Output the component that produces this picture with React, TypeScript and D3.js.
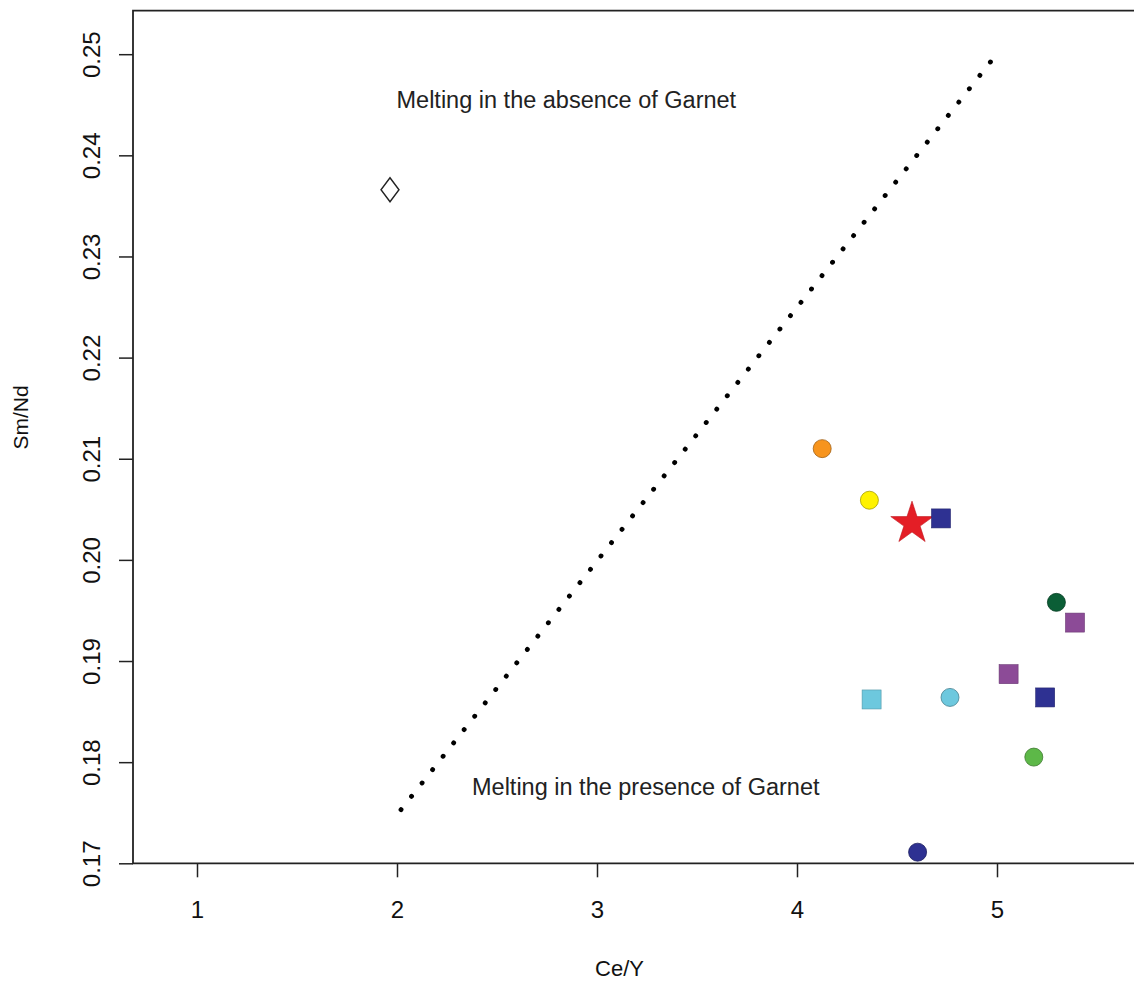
import * as d3 from "d3";
import { useEffect, useRef } from "react";

// data
const ceY = [1.965, 4.126, 4.362, 4.575, 4.72, 5.297, 5.39, 5.058, 4.373, 4.765, 5.241, 5.184, 4.603];
const smNd = [0.2366, 0.211, 0.2059, 0.2036, 0.2041, 0.1958, 0.1938, 0.1887, 0.1862, 0.1864, 0.1864, 0.1805, 0.1711];
const shapes = ["diamond", "circle", "circle", "star", "square", "circle", "square", "square", "square", "circle", "square", "circle", "circle"];
const fills = ["none", "#F7941D", "#FFF200", "#E41E26", "#2E3192", "#0B5E36", "#8C4B97", "#8C4B97", "#6DC8DE", "#6DC8DE", "#2E3192", "#5DB848", "#2E3192"];

const xTicks = [1, 2, 3, 4, 5];
const yTicks = [0.17, 0.18, 0.19, 0.2, 0.21, 0.22, 0.23, 0.24, 0.25];

// garnet boundary line
const lineX = [2.02, 4.99];
const lineY = [0.1753, 0.2498];

const W = 1134;
const H = 983;

const App = () => {
  const ref = useRef<SVGSVGElement>(null);

  useEffect(() => {
    const svg = d3.select(ref.current);
    svg.selectAll("*").remove();

    const left = 133, right = 1133, top = 10.7, bottom = 863.3;
    const x = d3.scaleLinear().domain([0.68, 5.68]).range([left, right]);
    const y = d3.scaleLinear().domain([0.17, 0.2543]).range([bottom, top]);

    const font = "Liberation Sans, Arial, sans-serif";

    // frame: left, bottom, top
    svg.append("path")
      .attr("d", `M${right + 5},${top}H${left}V${bottom}H${right + 5}`)
      .attr("fill", "none")
      .attr("stroke", "#222")
      .attr("stroke-width", 1.8);

    // x axis
    const gx = svg.append("g").attr("transform", `translate(0,${bottom})`);
    const xAxis = d3.axisBottom(x).tickValues(xTicks).tickSize(14).tickPadding(24).tickFormat(d3.format("d"));
    gx.call(xAxis);
    gx.select(".domain").remove();
    gx.selectAll("line").attr("stroke", "#222").attr("stroke-width", 1.5);
    gx.selectAll("text").attr("font-family", font).attr("font-size", 24).attr("fill", "#111");

    // y axis
    const gy = svg.append("g").attr("transform", `translate(${left},0)`);
    const yAxis = d3.axisLeft(y).tickValues(yTicks).tickSize(14).tickFormat(d3.format(".2f"));
    gy.call(yAxis);
    gy.select(".domain").remove();
    gy.selectAll("line").attr("stroke", "#222").attr("stroke-width", 1.5);
    gy.selectAll("text")
      .attr("font-family", font)
      .attr("font-size", 24)
      .attr("fill", "#111")
      .attr("x", null)
      .attr("dy", null)
      .attr("text-anchor", "middle")
      .attr("transform", "translate(-33,0) rotate(-90)");

    // axis titles
    svg.append("text")
      .attr("x", 619.5).attr("y", 976)
      .attr("text-anchor", "middle")
      .attr("font-family", font).attr("font-size", 22).attr("fill", "#111")
      .text("Ce/Y");
    svg.append("text")
      .attr("transform", "translate(28,417.5) rotate(-90)")
      .attr("text-anchor", "middle")
      .attr("font-family", font).attr("font-size", 21).attr("fill", "#111")
      .text("Sm/Nd");

    // dotted boundary
    const line = d3.line<number>().x((d, i) => x(lineX[i])).y((d, i) => y(lineY[i]));
    svg.append("path")
      .attr("d", line(lineX))
      .attr("fill", "none")
      .attr("stroke", "#000")
      .attr("stroke-width", 4.8)
      .attr("stroke-linecap", "round")
      .attr("stroke-dasharray", "0.1 16.9");

    // annotations
    svg.append("text")
      .attr("x", 396.5).attr("y", 107.5)
      .attr("font-family", font).attr("font-size", 23.5).attr("fill", "#222")
      .text("Melting in the absence of Garnet");
    svg.append("text")
      .attr("x", 472).attr("y", 795)
      .attr("font-family", font).attr("font-size", 23.5).attr("fill", "#222")
      .text("Melting in the presence of Garnet");

    // points
    const star = d3.symbol().type(d3.symbolStar).size(560);
    const pts = svg.append("g");
    ceY.forEach((cx, i) => {
      const px = x(cx), py = y(smNd[i]);
      const s = shapes[i];
      if (s === "circle") {
        pts.append("circle")
          .attr("cx", px).attr("cy", py).attr("r", 9)
          .attr("fill", fills[i])
          .attr("stroke", d3.color(fills[i])!.darker(1.2).formatHex())
          .attr("stroke-width", 0.8);
      } else if (s === "square") {
        pts.append("rect")
          .attr("x", px - 9.5).attr("y", py - 9.5).attr("width", 19).attr("height", 19)
          .attr("fill", fills[i])
          .attr("stroke", d3.color(fills[i])!.darker(0.8).formatHex())
          .attr("stroke-width", 0.6);
      } else if (s === "star") {
        pts.append("path")
          .attr("d", star())
          .attr("transform", `translate(${px},${py})`)
          .attr("fill", fills[i])
          .attr("stroke", "#c0161c")
          .attr("stroke-width", 0.6);
      } else {
        pts.append("path")
          .attr("d", `M${px},${py - 12}L${px + 9},${py}L${px},${py + 12}L${px - 9},${py}Z`)
          .attr("fill", "white")
          .attr("stroke", "#222")
          .attr("stroke-width", 1.4);
      }
    });
  }, []);

  return (
    <svg
      ref={ref}
      width={W}
      height={H}
      style={{ position: "absolute", left: 0, top: 0, background: "white" }}
    />
  );
};

export default App;
